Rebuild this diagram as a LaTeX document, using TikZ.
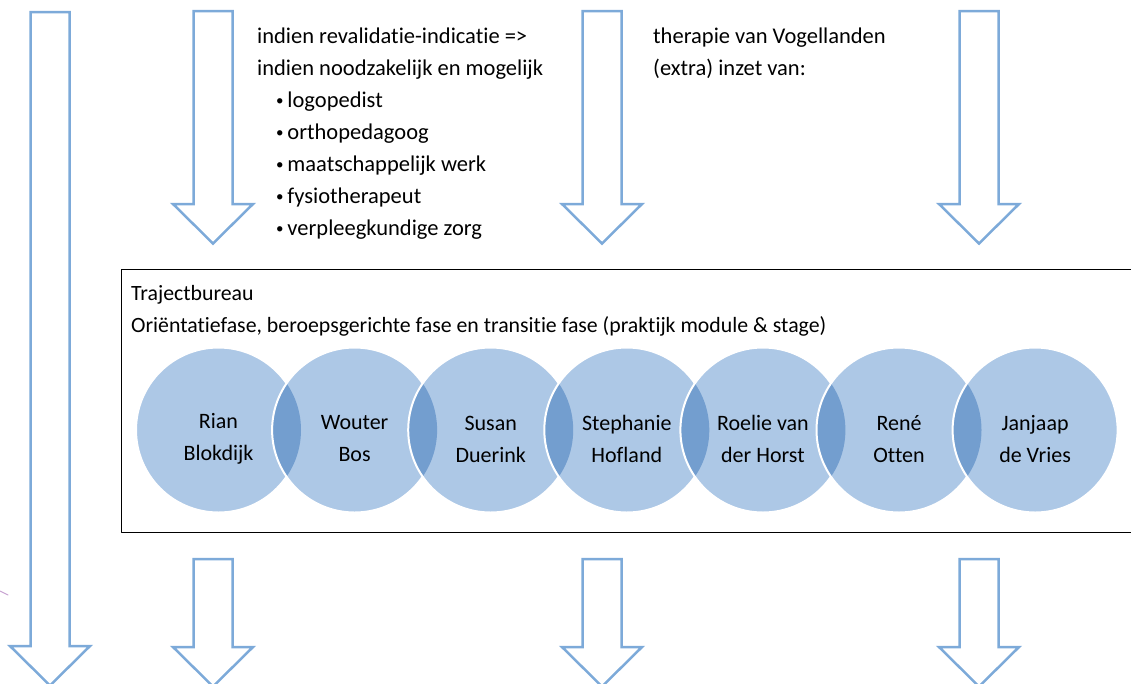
\documentclass[tikz,border=0pt]{standalone}
\usepackage{fontspec}
\setmainfont{Carlito}[Ligatures=NoCommon]
\usepackage{tikz}
\usetikzlibrary{calc}
\definecolor{pijlblauw}{rgb}{0.49,0.667,0.851}
\definecolor{vennlicht}{rgb}{0.678,0.784,0.902}
\definecolor{venndonker}{rgb}{0.451,0.62,0.812}
\definecolor{roze}{rgb}{0.78,0.63,0.82}
\tikzstyle{every node}=[font=\fontsize{22.5}{32}\selectfont]
\tikzstyle{pijl}=[line width=2.5pt,color=pijlblauw,line join=miter]
\tikzstyle{venn}=[circle,fill=vennlicht,minimum size=165pt,inner sep=0pt]
\newcommand{\stip}{\raisebox{1.5pt}{\fontsize{15}{15}\selectfont•}\,}

\begin{document}
\begin{tikzpicture}[line cap=round,line join=round,x=1pt,y=-1pt]
            \clip(0,0) rectangle (1131,683);
            \useasboundingbox (0,0) rectangle (1131,683);
            % blokpijlen
            \foreach \x/\ytop/\ywing in {50/12/646, 213/11/204, 602/11/204, 979/11/204, 213/559/647, 602/559/647, 979/559/647}
                \draw[pijl] (\x-19.5,\ytop) -- (\x+19.5,\ytop) -- (\x+19.5,\ywing) -- (\x+40,\ywing) -- (\x,\ywing+39.5) -- (\x-40,\ywing) -- (\x-19.5,\ywing) -- cycle;
            \draw[color=roze,line width=1pt] (0,591) -- (8,595);
            % teksten boven
            \node[anchor=base west,inner sep=0pt] (ind1) at (257,43) {indien revalidatie-indicatie =>};
            \node[anchor=base west,inner sep=0pt] (ind2) at (257,75) {indien noodzakelijk en mogelijk};
            \foreach \t [count=\i] in {logopedist, orthopedagoog, maatschappelijk werk, fysiotherapeut, verpleegkundige zorg}
                \node[anchor=base west,inner sep=0pt] (b\i) at (276,75+32*\i) {\stip\t};
            \node[anchor=base west,inner sep=0pt] (th1) at (653,43) {therapie van Vogellanden};
            \node[anchor=base west,inner sep=0pt] (th2) at (653,75) {(extra) inzet van:};
            % trajectbureau
            \node[draw,line width=1.3pt,anchor=north west,minimum width=1030pt,minimum height=263pt,inner sep=0pt] (bureau) at (121,269) {};
            \node[anchor=base west,inner sep=0pt,font=\fontsize{21.8}{32}\selectfont] (tb1) at (131,300) {Trajectbureau};
            \node[anchor=base west,inner sep=0pt,font=\fontsize{21.8}{32}\selectfont] (tb2) at (131,332) {Oriëntatiefase, beroepsgerichte fase en transitie fase (praktijk module \& stage)};
            % cirkels
            \foreach \naam [count=\i] in {{Rian\\Blokdijk}, {Wouter\\Bos}, {Susan\\Duerink}, {Stephanie\\Hofland}, {Roelie van\\der Horst}, {René\\Otten}, {Janjaap\\de Vries}}{
                \pgfmathsetmacro\xc{218.5+136.1*(\i-1)}
                \node[venn] (c\i) at (\xc,430) {};
                \ifnum\i>1
                    \begin{scope}
                        \clip (\xc-136.1,430) circle (82.5);
                        \fill[venndonker] (c\i.center) circle (82.5);
                    \end{scope}
                \fi
                \draw[white,line width=2pt] (c\i.center) circle (82.5);
                \node[align=center,inner sep=0pt,font=\fontsize{22}{32}\selectfont] (n\i) at (\xc,439) {\naam};
            }
        \end{tikzpicture}
\end{document}
